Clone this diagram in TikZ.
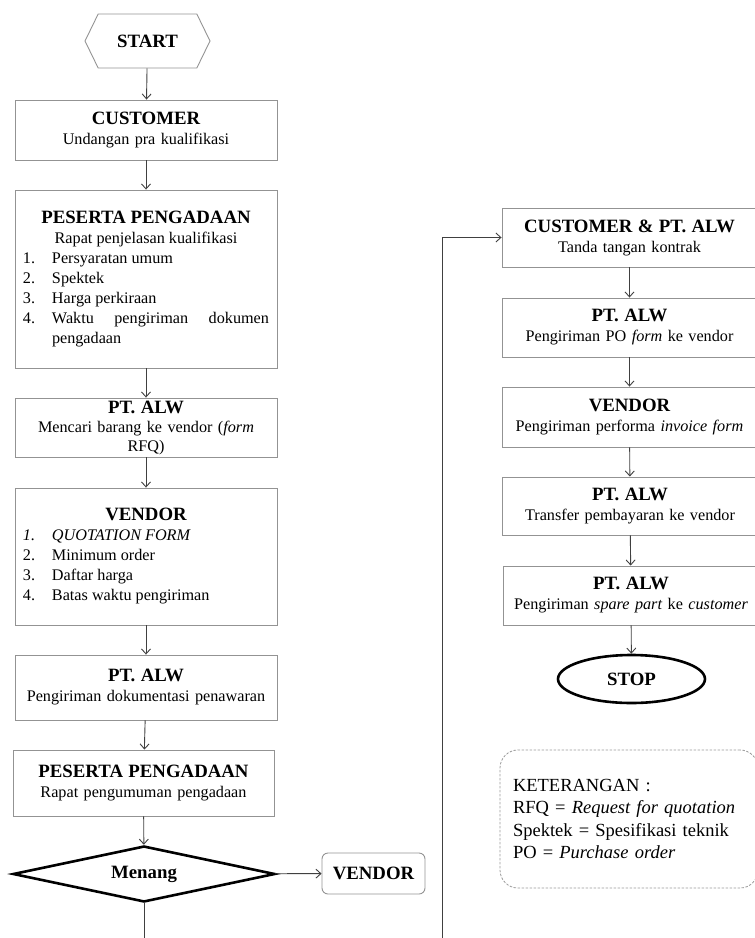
\documentclass[tikz,border=0pt]{standalone}
\usepackage{fontspec}
\setmainfont{Liberation Serif}
\usetikzlibrary{shapes.geometric,shapes.symbols,arrows.meta}
\newcommand{\judul}[1]{{\fontsize{18.8}{21}\selectfont\bfseries #1}}
\newcommand{\butir}[2]{\par\noindent\hangindent=29pt\hangafter=1\makebox[29pt][l]{#1}#2\par}

\tikzset{
  kotak/.style={draw=gray!85, line width=0.9pt, rectangle, inner sep=0pt,
    text width=250pt, align=center, font=\fontsize{16.2}{20}\selectfont},
  daftar/.style={kotak, text width=246pt, align=justify},
  tebal/.style={draw=black, line width=2.6pt, inner sep=0pt},
  alur/.style={->, draw=black!75, line width=0.9pt},
}

\begin{document}
\begin{tikzpicture}[x=1pt, y=-1pt, >={Straight Barb[length=5pt,width=9pt]}]
  \useasboundingbox (0,0) rectangle (755,938);
  % kolom kiri
  \node[draw=gray!85, line width=0.9pt, signal, signal to=west and east, signal pointer angle=128,
    minimum width=125pt, minimum height=54pt, inner sep=0pt] (start) at (147.5,41) {\judul{START}};
  \node[kotak, minimum width=262pt, minimum height=60pt] (cust) at (146,130)
    {\judul{CUSTOMER}\\Undangan pra kualifikasi};
  \node[daftar, minimum width=262pt, minimum height=178pt] (peserta1) at (146,279)
    {{\centering\judul{PESERTA PENGADAAN}\\Rapat penjelasan kualifikasi\par}%
     \butir{1.}{Persyaratan umum}\butir{2.}{Spektek}\butir{3.}{Harga perkiraan}%
     \butir{4.}{Waktu pengiriman dokumen\linebreak pengadaan}\vspace*{26pt}};
  \node[kotak, minimum width=262pt, minimum height=59pt, text height=15pt, text depth=44pt,
    font=\fontsize{16.2}{19}\selectfont] (alw1) at (146,427.5)
    {\judul{PT. ALW}\\Mencari barang ke vendor (\textit{form}\\RFQ)};
  \node[daftar, minimum width=262pt, minimum height=137pt] (vendor1) at (146,556.5)
    {{\centering\judul{VENDOR}\par}%
     \butir{\textit{1.}}{\textit{QUOTATION FORM}}\butir{2.}{Minimum order}%
     \butir{3.}{Daftar harga}\butir{4.}{Batas waktu pengiriman}};
  \node[kotak, minimum width=262pt, minimum height=65pt] (alw2) at (146,687.5)
    {\judul{PT. ALW}\\Pengiriman dokumentasi penawaran};
  \node[kotak, minimum width=261pt, minimum height=66pt] (peserta2) at (143.5,783)
    {\judul{PESERTA PENGADAAN}\\Rapat pengumuman pengadaan};
  \node[tebal, diamond, aspect=4.7, minimum width=262pt, minimum height=56pt] (menang) at (144,874)
    {\judul{Menang}};
  \node[kotak, text width=, rounded corners=6pt, minimum width=103pt, minimum height=41pt] (vendor2) at (373.5,873.5)
    {\judul{VENDOR}};
  % kolom kanan
  \node[kotak, minimum width=255pt, minimum height=59pt] (custalw) at (629.5,237.5)
    {\judul{CUSTOMER \& PT. ALW}\\Tanda tangan kontrak};
  \node[kotak, minimum width=255pt, minimum height=59pt] (alw3) at (629.5,327.5)
    {\judul{PT. ALW}\\Pengiriman PO \textit{form} ke vendor};
  \node[kotak, minimum width=255pt, minimum height=60pt] (vendor3) at (629.5,417)
    {\judul{VENDOR}\\Pengiriman performa \textit{invoice form}};
  \node[kotak, minimum width=255pt, minimum height=58pt] (alw4) at (630,506)
    {\judul{PT. ALW}\\Transfer pembayaran ke vendor};
  \node[kotak, minimum width=255pt, minimum height=59pt] (alw5) at (631,595.5)
    {\judul{PT. ALW}\\Pengiriman \textit{spare part} ke \textit{customer}};
  \node[tebal, ellipse, minimum width=147pt, minimum height=48pt] (stop) at (631.5,679)
    {\judul{STOP}};
  \node[draw=gray!80, line width=0.8pt, dash pattern=on 2.5pt off 1.5pt, rounded corners=18pt,
    minimum width=258pt, minimum height=138pt, text width=232pt, align=left, inner sep=0pt,
    font=\fontsize{18.5}{22.5}\selectfont] (ket) at (629,819)
    {KETERANGAN :\\RFQ = \textit{Request for quotation}\\Spektek = Spesifikasi teknik\\PO = \textit{Purchase order}};
  \coordinate (bawah) at (442,960);
  % panah
  \draw[alur] (start) -- (cust);
  \draw[alur] (cust) -- (peserta1);
  \draw[alur] (peserta1) -- (alw1);
  \draw[alur] (alw1) -- (vendor1);
  \draw[alur] (vendor1) -- (alw2);
  \draw[alur] (alw2) -- (peserta2);
  \draw[alur] (peserta2) -- (menang);
  \draw[alur] (menang) -- (vendor2);
  \draw[alur] (menang) |- (bawah) |- (custalw);
  \draw[alur] (custalw) -- (alw3);
  \draw[alur] (alw3) -- (vendor3);
  \draw[alur] (vendor3) -- (alw4);
  \draw[alur] (alw4) -- (alw5);
  \draw[alur] (alw5) -- (stop);
\end{tikzpicture}
\end{document}
